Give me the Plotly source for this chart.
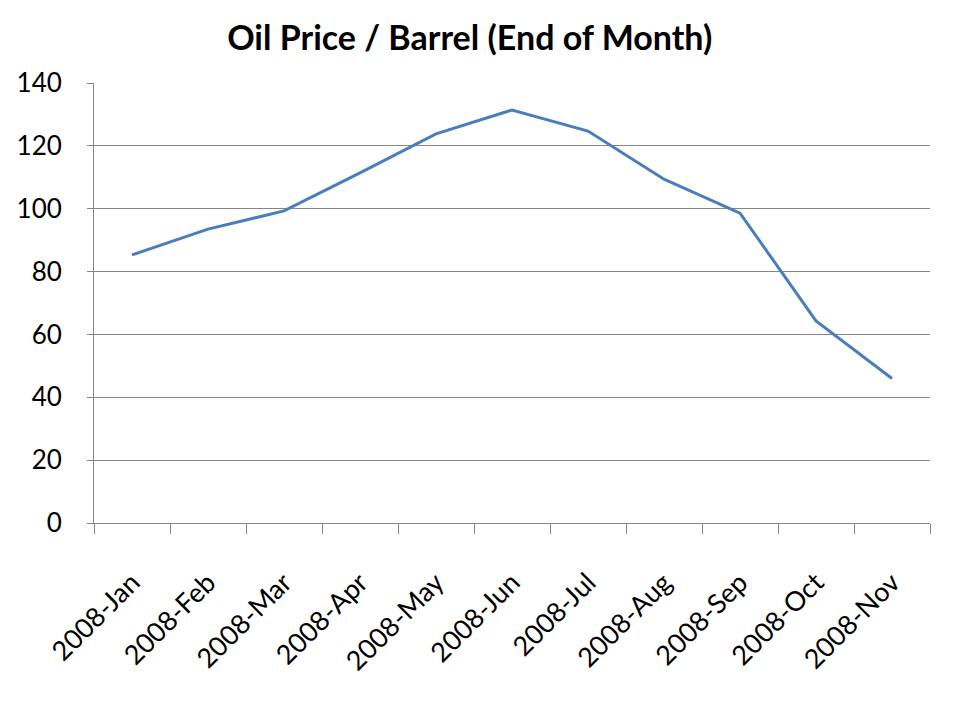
import plotly.graph_objects as go

months = ["2008-Jan", "2008-Feb", "2008-Mar", "2008-Apr", "2008-May", "2008-Jun",
          "2008-Jul", "2008-Aug", "2008-Sep", "2008-Oct", "2008-Nov"]
prices = [85.3, 93.5, 99.3, 111.4, 123.8, 131.4, 124.7, 109.4, 98.6, 64.3, 46.0]
y_ticks = [0, 20, 40, 60, 80, 100, 120, 140]

FONT = "Lato, Calibri, Carlito, sans-serif"

fig = go.Figure()
fig.add_trace(go.Scatter(x=months, y=prices, mode="lines",
                         line=dict(color="#4a7ebb", width=3), showlegend=False))

fig.update_layout(
    width=952, height=712,
    paper_bgcolor="white", plot_bgcolor="white",
    margin=dict(l=86, r=30, t=75, b=197, autoexpand=False),
    title=dict(text="<b>Oil Price / Barrel (End of Month)</b>", x=0.485, xanchor="center",
               y=0.958, yanchor="middle", font=dict(family=FONT, size=34, color="black")),
    font=dict(family=FONT, color="black"),
)
fig.update_xaxes(type="category", tickson="boundaries", ticks="outside", ticklen=10,
                 tickcolor="#868686", showline=True, linecolor="#868686", linewidth=1,
                 showgrid=False, tickangle=-45, tickfont=dict(size=27, family=FONT),
                 ticklabelstandoff=32, range=[-0.5, 10.5], automargin=False)
fig.update_yaxes(range=[0, 140], tickvals=y_ticks, ticks="outside", ticklen=6,
                 tickcolor="#868686", showline=True, linecolor="#868686", linewidth=1,
                 showgrid=True, gridcolor="#868686", gridwidth=1, ticklabelstandoff=20,
                 tickfont=dict(size=26, family=FONT), zeroline=False, automargin=False)

fig.write_html("out.html")
